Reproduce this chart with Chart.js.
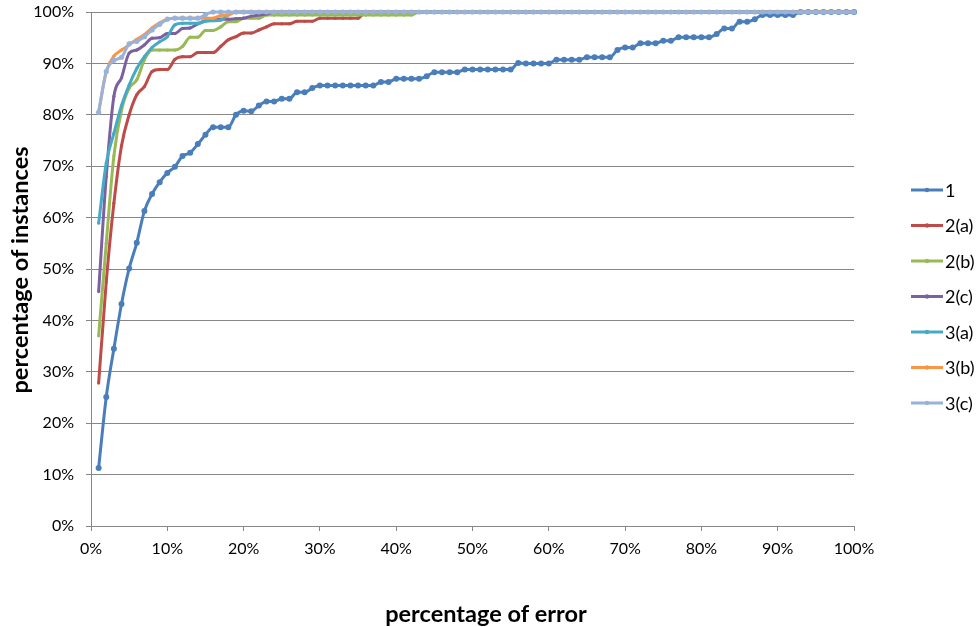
<!DOCTYPE html>
<html>
<head>
<meta charset="utf-8">
<script src="https://cdn.jsdelivr.net/npm/chart.js@4.4.1/dist/chart.umd.min.js"></script>
<style>
  html, body { margin: 0; padding: 0; background: #ffffff; }
  #wrap { width: 980px; height: 627px; position: relative; }
</style>
</head>
<body>
<div id="wrap"><canvas id="chart"></canvas></div>
<script>
// Error threshold (percent) for every sample point
const errorLevels = [
  1, 2, 3, 4, 5, 6, 7, 8, 9, 10, 11, 12, 13, 14, 15, 16, 17, 18, 19, 20,
  21, 22, 23, 24, 25, 26, 27, 28, 29, 30, 31, 32, 33, 34, 35, 36, 37, 38, 39, 40,
  41, 42, 43, 44, 45, 46, 47, 48, 49, 50, 51, 52, 53, 54, 55, 56, 57, 58, 59, 60,
  61, 62, 63, 64, 65, 66, 67, 68, 69, 70, 71, 72, 73, 74, 75, 76, 77, 78, 79, 80,
  81, 82, 83, 84, 85, 86, 87, 88, 89, 90, 91, 92, 93, 94, 95, 96, 97, 98, 99, 100
];

const seriesNames = ['1', '2(a)', '2(b)', '2(c)', '3(a)', '3(b)', '3(c)'];

// Cumulative percentage of instances at each error level
const method1 = [
  11.3, 25.1, 34.5, 43.2, 50.1, 55.1, 61.3, 64.6, 66.9, 68.7,
  69.9, 72.0, 72.6, 74.3, 76.1, 77.6, 77.6, 77.6, 80.0, 80.8,
  80.7, 81.8, 82.6, 82.6, 83.1, 83.1, 84.4, 84.4, 85.2, 85.7,
  85.7, 85.7, 85.7, 85.7, 85.7, 85.7, 85.7, 86.4, 86.4, 87.0,
  87.0, 87.0, 87.0, 87.5, 88.3, 88.3, 88.3, 88.3, 88.8, 88.8,
  88.8, 88.8, 88.8, 88.8, 88.8, 90.1, 90.0, 90.0, 90.0, 90.0,
  90.7, 90.7, 90.7, 90.7, 91.2, 91.2, 91.2, 91.2, 92.6, 93.1,
  93.1, 93.9, 93.9, 93.9, 94.4, 94.4, 95.1, 95.1, 95.1, 95.1,
  95.1, 95.7, 96.8, 96.8, 98.1, 98.1, 98.6, 99.4, 99.4, 99.4,
  99.4, 99.4, 100, 100, 100, 100, 100, 100, 100, 100
];
const method2a = [
  27.8, 47.5, 62.8, 74.0, 80.0, 83.9, 85.5, 88.4, 88.8, 88.8,
  90.8, 91.3, 91.3, 92.1, 92.1, 92.1, 93.3, 94.6, 95.2, 95.9,
  95.9, 96.5, 97.1, 97.7, 97.7, 97.7, 98.2, 98.2, 98.2, 98.8,
  98.8, 98.8, 98.8, 98.8, 98.8, 100, 100, 100, 100, 100,
  100, 100, 100, 100, 100, 100, 100, 100, 100, 100,
  100, 100, 100, 100, 100, 100, 100, 100, 100, 100,
  100, 100, 100, 100, 100, 100, 100, 100, 100, 100,
  100, 100, 100, 100, 100, 100, 100, 100, 100, 100,
  100, 100, 100, 100, 100, 100, 100, 100, 100, 100,
  100, 100, 100, 100, 100, 100, 100, 100, 100, 100
];
const method2b = [
  37.0, 55.0, 72.0, 80.9, 85.2, 86.8, 90.7, 92.6, 92.6, 92.6,
  92.6, 93.3, 95.1, 95.1, 96.4, 96.4, 97.1, 98.1, 98.1, 98.8,
  98.8, 98.8, 99.4, 99.4, 99.4, 99.4, 99.4, 99.4, 99.4, 99.4,
  99.4, 99.4, 99.4, 99.4, 99.4, 99.4, 99.4, 99.4, 99.4, 99.4,
  99.4, 99.4, 100, 100, 100, 100, 100, 100, 100, 100,
  100, 100, 100, 100, 100, 100, 100, 100, 100, 100,
  100, 100, 100, 100, 100, 100, 100, 100, 100, 100,
  100, 100, 100, 100, 100, 100, 100, 100, 100, 100,
  100, 100, 100, 100, 100, 100, 100, 100, 100, 100,
  100, 100, 100, 100, 100, 100, 100, 100, 100, 100
];
const method2c = [
  45.6, 68.0, 83.6, 87.2, 92.0, 92.6, 93.6, 94.9, 95.0, 95.8,
  95.8, 96.8, 96.9, 97.7, 98.3, 98.6, 98.6, 98.6, 98.7, 98.8,
  99.2, 99.4, 99.6, 100, 100, 100, 100, 100, 100, 100,
  100, 100, 100, 100, 100, 100, 100, 100, 100, 100,
  100, 100, 100, 100, 100, 100, 100, 100, 100, 100,
  100, 100, 100, 100, 100, 100, 100, 100, 100, 100,
  100, 100, 100, 100, 100, 100, 100, 100, 100, 100,
  100, 100, 100, 100, 100, 100, 100, 100, 100, 100,
  100, 100, 100, 100, 100, 100, 100, 100, 100, 100,
  100, 100, 100, 100, 100, 100, 100, 100, 100, 100
];
const method3a = [
  58.9, 70.6, 76.4, 81.8, 85.8, 89.0, 91.3, 93.1, 94.2, 95.2,
  97.5, 97.8, 97.8, 97.8, 98.2, 98.3, 98.4, 99.5, 100, 100,
  100, 100, 100, 100, 100, 100, 100, 100, 100, 100,
  100, 100, 100, 100, 100, 100, 100, 100, 100, 100,
  100, 100, 100, 100, 100, 100, 100, 100, 100, 100,
  100, 100, 100, 100, 100, 100, 100, 100, 100, 100,
  100, 100, 100, 100, 100, 100, 100, 100, 100, 100,
  100, 100, 100, 100, 100, 100, 100, 100, 100, 100,
  100, 100, 100, 100, 100, 100, 100, 100, 100, 100,
  100, 100, 100, 100, 100, 100, 100, 100, 100, 100
];
const method3b = [
  80.5, 88.4, 91.4, 92.6, 93.6, 94.7, 95.6, 96.9, 97.9, 98.6,
  98.8, 98.8, 98.8, 98.8, 98.8, 98.8, 99.3, 99.4, 100, 100,
  100, 100, 100, 100, 100, 100, 100, 100, 100, 100,
  100, 100, 100, 100, 100, 100, 100, 100, 100, 100,
  100, 100, 100, 100, 100, 100, 100, 100, 100, 100,
  100, 100, 100, 100, 100, 100, 100, 100, 100, 100,
  100, 100, 100, 100, 100, 100, 100, 100, 100, 100,
  100, 100, 100, 100, 100, 100, 100, 100, 100, 100,
  100, 100, 100, 100, 100, 100, 100, 100, 100, 100,
  100, 100, 100, 100, 100, 100, 100, 100, 100, 100
];
const method3c = [
  80.5, 88.4, 90.6, 91.2, 93.8, 94.3, 95.2, 96.5, 97.6, 98.6,
  98.8, 98.8, 98.8, 98.8, 99.5, 100, 100, 100, 100, 100,
  100, 100, 100, 100, 100, 100, 100, 100, 100, 100,
  100, 100, 100, 100, 100, 100, 100, 100, 100, 100,
  100, 100, 100, 100, 100, 100, 100, 100, 100, 100,
  100, 100, 100, 100, 100, 100, 100, 100, 100, 100,
  100, 100, 100, 100, 100, 100, 100, 100, 100, 100,
  100, 100, 100, 100, 100, 100, 100, 100, 100, 100,
  100, 100, 100, 100, 100, 100, 100, 100, 100, 100,
  100, 100, 100, 100, 100, 100, 100, 100, 100, 100
];

const seriesValues = [method1, method2a, method2b, method2c, method3a, method3b, method3c];
const seriesColors = ['#4A7EBB', '#BE4B48', '#98B954', '#7D60A0', '#46AAC5', '#F79646', '#98B2DA'];
const pointSizes = [3, 1.6, 1.6, 1.6, 1.6, 1.6, 2.6];

const xTickValues = [0, 10, 20, 30, 40, 50, 60, 70, 80, 90, 100];
const yTickValues = [0, 10, 20, 30, 40, 50, 60, 70, 80, 90, 100];

const xTitle = 'percentage of error';
const yTitle = 'percentage of instances';

const axisGrey = '#878787';
const fontStack = 'Lato, "Liberation Sans", sans-serif';
Chart.defaults.font.family = fontStack;
Chart.defaults.color = '#000000';

const datasets = seriesNames.map((name, i) => ({
  label: name,
  data: errorLevels.map((x, k) => ({ x: x, y: seriesValues[i][k] })),
  borderColor: seriesColors[i],
  backgroundColor: seriesColors[i],
  pointBackgroundColor: seriesColors[i],
  pointBorderColor: seriesColors[i],
  borderWidth: 3,
  pointRadius: pointSizes[i],
  pointBorderWidth: 0,
  cubicInterpolationMode: 'monotone',
  fill: false,
  clip: false,
  order: seriesNames.length - i
}));

// Legend to the right: short line with a marker, then the series name
const sideLegend = {
  id: 'sideLegend',
  afterDraw(chart, args, opts) {
    const ctx = chart.ctx;
    ctx.save();
    chart.data.datasets.forEach((ds, i) => {
      const y = opts.top + i * opts.spacing;
      ctx.strokeStyle = ds.borderColor;
      ctx.lineWidth = 3;
      ctx.beginPath();
      ctx.moveTo(opts.lineStart, y);
      ctx.lineTo(opts.lineEnd, y);
      ctx.stroke();
      ctx.fillStyle = ds.borderColor;
      ctx.beginPath();
      ctx.arc((opts.lineStart + opts.lineEnd) / 2, y, 2.2, 0, Math.PI * 2);
      ctx.fill();
      ctx.fillStyle = '#000000';
      ctx.font = opts.font;
      ctx.textAlign = 'left';
      ctx.textBaseline = 'middle';
      ctx.fillText(ds.label, opts.textX, y + 1);
    });
    ctx.restore();
  }
};

// Bold axis titles, placed relative to the canvas
const axisTitles = {
  id: 'axisTitles',
  afterDraw(chart, args, opts) {
    const ctx = chart.ctx;
    ctx.save();
    ctx.fillStyle = '#000000';
    ctx.font = opts.font;
    ctx.textAlign = 'center';
    ctx.textBaseline = 'middle';
    ctx.fillText(xTitle, opts.xCenter, opts.xMiddle);
    ctx.translate(opts.yMiddle, opts.yCenter);
    ctx.rotate(-Math.PI / 2);
    ctx.fillText(yTitle, 0, 0);
    ctx.restore();
  }
};

new Chart(document.getElementById('chart'), {
  type: 'line',
  data: { datasets: datasets },
  plugins: [sideLegend, axisTitles],
  options: {
    responsive: true,
    maintainAspectRatio: false,
    animation: false,
    devicePixelRatio: 1,
    layout: { padding: { left: 0, right: 126, top: 12, bottom: 0 } },
    plugins: {
      legend: { display: false },
      tooltip: { enabled: false },
      sideLegend: {
        top: 190, spacing: 35.5, lineStart: 911, lineEnd: 943, textX: 945,
        font: '18px ' + fontStack
      },
      axisTitles: {
        font: 'bold 23.5px ' + fontStack,
        xCenter: 486, xMiddle: 614,
        yMiddle: 20, yCenter: 270
      }
    },
    scales: {
      x: {
        type: 'linear',
        min: 0,
        max: 100,
        afterBuildTicks: (scale) => { scale.ticks = xTickValues.map(v => ({ value: v })); },
        afterFit: (scale) => { scale.height = 101; scale.paddingLeft = 0; scale.paddingRight = 0; },
        ticks: {
          callback: (v) => v + '%',
          font: { size: 16 },
          padding: 8,
          maxRotation: 0,
          autoSkip: false
        },
        grid: { display: true, drawOnChartArea: false, drawTicks: true, tickLength: 5, color: axisGrey },
        border: { display: true, color: axisGrey, width: 1 },
        title: { display: false }
      },
      y: {
        type: 'linear',
        min: 0,
        max: 100,
        afterBuildTicks: (scale) => { scale.ticks = yTickValues.map(v => ({ value: v })); },
        afterFit: (scale) => { scale.width = 91; scale.paddingTop = 0; scale.paddingBottom = 0; },
        ticks: {
          callback: (v) => v + '%',
          font: { size: 16 },
          padding: 12,
          autoSkip: false
        },
        grid: { display: true, drawTicks: true, tickLength: 5, color: axisGrey, lineWidth: 1 },
        border: { display: true, color: axisGrey, width: 1 },
        title: { display: false }
      }
    }
  }
});
</script>
</body>
</html>
